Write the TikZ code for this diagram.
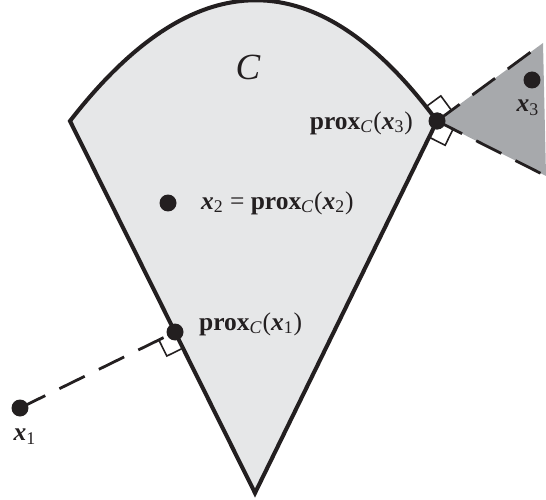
\documentclass[tikz,border=0pt]{standalone}
\usepackage{fontspec}
\setmainfont{Liberation Serif}
\usetikzlibrary{calc}
\definecolor{Ink}{HTML}{231F20}
\definecolor{SetGray}{HTML}{E6E7E8}
\definecolor{ConeGray}{HTML}{A7A9AC}
\newcommand{\vx}{\textbf{\textit{x}}}
\newcommand{\proxC}{\textbf{prox}\textsubscript{\textit{C}}}

\begin{document}
\begin{tikzpicture}[
  x=0.02cm,y=-0.02cm,
  setline/.style={draw=Ink,line width=2.3pt,line join=miter},
  normline/.style={draw=Ink,line width=1.6pt,dash pattern=on 16pt off 9pt},
  rightangle/.style={draw=Ink,line width=0.9pt},
  pt/.style={circle,fill=Ink,inner sep=0pt,minimum size=0.34cm},
  lbl/.style={text=Ink,font=\fontsize{14.5}{17}\selectfont,inner sep=1pt}
]
\useasboundingbox (0,0) rectangle (546,499);
% corners of the set C
\coordinate (A) at (70,121);
\coordinate (O) at (255,493);
\coordinate (c1) at (195,-40);
\coordinate (c2) at (318,-40);
% normal cone at prox_C(x3)
\coordinate (U) at (543,43);
\coordinate (L) at (546,176);

\node[pt] (p3) at (437,121) {};
\fill[SetGray] (A) .. controls (c1) and (c2) .. (p3.center) -- (O) -- cycle;
\fill[ConeGray] (p3.center) -- (U) -- (L) -- cycle;
\draw[normline] (p3.center) -- (U);
\draw[normline] (p3.center) -- (L);
\draw[setline] (A) .. controls (c1) and (c2) .. (p3.center) -- (O) -- cycle;

\node[pt] (x1) at (20,408) {};
\node[pt] (p1) at (175,332) {};
\node[pt] (x2) at (168,203) {};
\node[pt] (x3) at (532,80) {};
\draw[normline] (x1.center) -- (p1.center);

% right angle marks
\coordinate (r1a) at ($(p1.center)!0.36cm!(O)$);
\coordinate (r1b) at ($(p1.center)!0.36cm!(x1.center)$);
\draw[rightangle] (r1a) -- ($(r1a)+(r1b)-(p1.center)$) -- (r1b);
\coordinate (r2a) at ($(p3.center)!0.36cm!(c2)$);
\coordinate (r2b) at ($(p3.center)!0.36cm!(U)$);
\draw[rightangle] (r2a) -- ($(r2a)+(r2b)-(p3.center)$) -- (r2b);
\coordinate (r3a) at ($(p3.center)!0.36cm!(O)$);
\coordinate (r3b) at ($(p3.center)!0.36cm!(L)$);
\draw[rightangle] (r3a) -- ($(r3a)+(r3b)-(p3.center)$) -- (r3b);
\node[pt] (p3dot) at (p3) {};

\node[text=Ink,font=\fontsize{21}{24}\selectfont\itshape] (setC) at (248,67) {C};
\node[lbl,anchor=east] (lp3) at (415,123) {\proxC(\vx\textsubscript{3})};
\node[lbl,anchor=west] (lx2) at (199,203) {\vx\textsubscript{2} = \proxC(\vx\textsubscript{2})};
\node[lbl,anchor=west] (lp1) at (197,324) {\proxC(\vx\textsubscript{1})};
\node[lbl] (lx1) at (25,437) {\vx\textsubscript{1}};
\node[lbl] (lx3) at (528,108) {\vx\textsubscript{3}};
\end{tikzpicture}
\end{document}
